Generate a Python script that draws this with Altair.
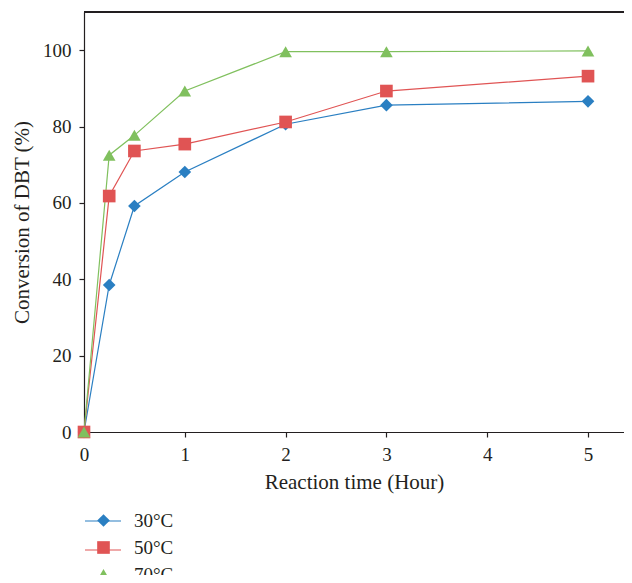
import altair as alt
import pandas as pd

times = [0, 0.25, 0.5, 1, 2, 3, 5]
series_names = ["30°C", "50°C", "70°C"]
conv_30 = [0, 38.5, 59.2, 68.1, 80.6, 85.6, 86.6]
conv_50 = [0, 61.8, 73.6, 75.4, 81.2, 89.3, 93.2]
conv_70 = [0, 72.5, 77.7, 89.3, 99.6, 99.6, 99.8]
colors = ["#2a7fc2", "#e05454", "#80c05e"]
shapes = ["diamond", "square", "triangle-up"]
x_ticks = [0, 1, 2, 3, 4, 5]
y_ticks = [0, 20, 40, 60, 80, 100]

line_keys = ["L" + s for s in series_names]
rows = []
for name, lk, vals in zip(series_names, line_keys, [conv_30, conv_50, conv_70]):
    for t, v in zip(times, vals):
        rows.append({"t": t, "c": v, "series": name, "sl": lk})
df = pd.DataFrame(rows)

FONT = "Liberation Serif"
W, H = 540, 420
LEG_Y = 499

xs = alt.X("t:Q", scale=alt.Scale(domain=[0, 5.357], nice=False, zero=False),
           axis=alt.Axis(values=x_ticks, title="Reaction time (Hour)", format="d"))
ys = alt.Y("c:Q", scale=alt.Scale(domain=[0, 110], nice=False),
           axis=alt.Axis(values=y_ticks, title="Conversion of DBT (%)"))

line_legend = alt.Legend(
    title=None, orient="none", legendX=0, legendY=LEG_Y - 9,
    labelFont=FONT, labelFontSize=19, labelExpr="''",
    rowPadding=0, symbolSize=1296, symbolStrokeWidth=1.2, symbolType="stroke",
)

def pt_legend():
    return alt.Legend(
        title=None, orient="none", legendX=10, legendY=LEG_Y,
        labelFont=FONT, labelFontSize=19, labelColor="#231f20",
        labelOffset=21, rowPadding=7, symbolSize=160, symbolOpacity=1,
    )

lines = alt.Chart(df).mark_line(strokeWidth=1.2).encode(
    x=xs, y=ys,
    stroke=alt.Stroke("sl:N", scale=alt.Scale(domain=line_keys, range=colors),
                      legend=line_legend),
    order=alt.Order("t:Q"),
)

points = alt.Chart(df).mark_point(filled=True, size=160, opacity=1).encode(
    x=xs, y=ys,
    fill=alt.Fill("series:N", scale=alt.Scale(domain=series_names, range=colors),
                  legend=pt_legend()),
    shape=alt.Shape("series:N", scale=alt.Scale(domain=series_names, range=shapes),
                    legend=pt_legend()),
)

top_rule = alt.Chart(df).mark_rule(color="#231f20", strokeWidth=1.2).encode(
    x=alt.value(0), x2=alt.value(W), y=alt.value(0)
)

chart = alt.layer(top_rule, lines, points).properties(
    width=W, height=H,
    autosize=alt.AutoSizeParams(type="none"),
    padding={"left": 76, "top": 4, "right": 0, "bottom": 143},
).configure_view(stroke=None).configure_axis(
    grid=False, domainColor="#231f20", domainWidth=1.2, tickColor="#231f20",
    tickWidth=1.2, tickSize=5, labelFont=FONT, labelFontSize=19, labelColor="#231f20",
    titleFont=FONT, titleFontSize=21, titleColor="#231f20", titleFontWeight="normal",
    labelPadding=8, labelFlush=False,
).configure_axisX(titlePadding=7).configure_axisY(titlePadding=10)

chart.save("out.html", embed_options={"renderer": "svg", "actions": False})
